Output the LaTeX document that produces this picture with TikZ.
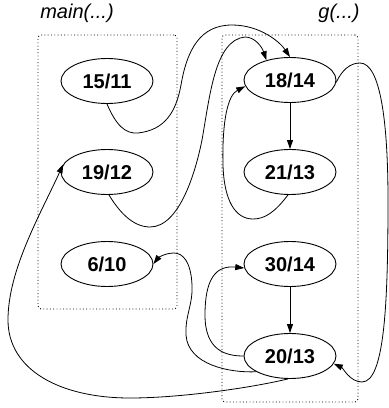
\documentclass[tikz,border=0pt]{standalone}
\usepackage{fontspec}
\setmainfont{Liberation Sans}
\usetikzlibrary{shapes.geometric,arrows.meta}
\begin{document}
\begin{tikzpicture}[x=1pt,y=-1pt,
  state/.style={ellipse,draw,line width=0.9pt,minimum width=92pt,minimum height=45pt,
    inner sep=0pt,font=\fontsize{20}{24}\selectfont\bfseries},
  cluster/.style={draw,dash pattern=on 0.9pt off 2.4pt,line width=0.9pt,
    rounded corners=3pt,inner sep=0pt},
  clabel/.style={font=\fontsize{20}{24}\selectfont\itshape,inner sep=0pt},
  edge/.style={line width=0.8pt,-{Triangle[length=9pt,width=6pt]}}]
\useasboundingbox (0,0) rectangle (389,408);

% clusters
\node[cluster,minimum width=139pt,minimum height=274pt] (mainbox) at (107.5,172) {};
\node[cluster,minimum width=136pt,minimum height=367pt] (gbox) at (290,218.5) {};
\node[clabel] (mainlbl) at (77,13) {main(...)};
\node[clabel] (glbl) at (339,13) {g(...)};

% states
\node[state] (n1511) at (107,81) {15/11};
\node[state] (n1912) at (107,172) {19/12};
\node[state] (n610)  at (107,264) {6/10};
\node[state] (n1814) at (290,80) {18/14};
\node[state] (n2113) at (290,172) {21/13};
\node[state] (n3014) at (290,264) {30/14};
\node[state] (n2013) at (290,356) {20/13};

% straight calls
\draw[edge] (n1814) -- (n2113);
\draw[edge] (n3014) -- (n2013);

% 15/11 -> 18/14
\draw[edge] (n1511.south) .. controls (116,125) and (125,134) .. (138,133)
  .. controls (165,130) and (176,112) .. (181,85)
  .. controls (187,50) and (200,25) .. (232,25)
  .. controls (260,25) and (280,42) .. (n1814.north);

% 19/12 -> 18/14
\draw[edge] (n1912.-85) .. controls (118,210) and (132,227) .. (150,227)
  .. controls (180,227) and (196,170) .. (202,140)
  .. controls (210,95) and (215,40) .. (245,37)
  .. controls (255,37) and (262,47) .. (n1814.140);

% 21/13 -> 18/14
\draw[edge] (n2113.265) .. controls (275,212) and (265,219) .. (253,219)
  .. controls (235,219) and (224,200) .. (223,165)
  .. controls (222,120) and (228,95) .. (n1814.188);

% 18/14 -> 20/13
\draw[edge] (n1814.-3) .. controls (342,70) and (350,63) .. (360,63)
  .. controls (380,63) and (388,120) .. (388,200)
  .. controls (388,300) and (385,382) .. (362,382)
  .. controls (350,382) and (343,368) .. (n2013.-10);

% 20/13 -> 30/14
\draw[edge] (n2013.west) .. controls (225,356) and (205,350) .. (205,315)
  .. controls (205,280) and (215,265) .. (n3014.185);

% 20/13 -> 6/10
\draw[edge] (n2013.205) .. controls (230,373) and (188,365) .. (186,335)
  .. controls (185,315) and (193,305) .. (192,285)
  .. controls (191,262) and (183,253) .. (174,253)
  .. controls (165,253) and (158,258) .. (n610.east);

% 20/13 -> 19/12
\draw[edge] (n2013.265) .. controls (250,388) and (180,398) .. (130,398)
  .. controls (60,398) and (8,370) .. (8,320)
  .. controls (8,270) and (40,215) .. (n1912.170);
\end{tikzpicture}
\end{document}
